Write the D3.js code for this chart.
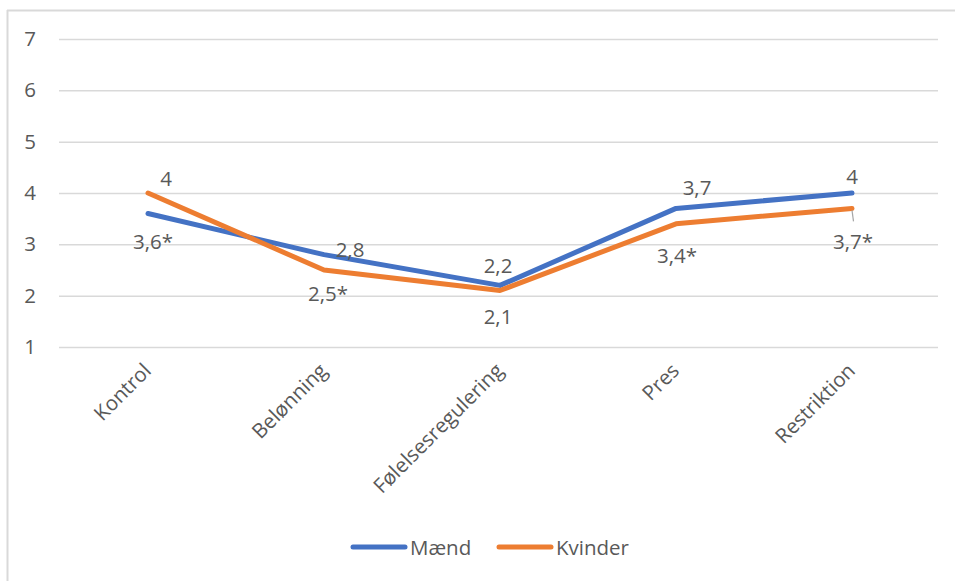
<!DOCTYPE html>
<html>
<head>
<meta charset="utf-8">
<script src="https://cdn.jsdelivr.net/npm/d3@7"></script>
<style>
  html, body { margin: 0; padding: 0; background: #fff; }
  svg text { font-family: "Open Sans", sans-serif; fill: #595959; }
</style>
</head>
<body>
<svg id="chart" width="955" height="581"></svg>
<script>
// Gennemsnitlige scorer pr. dimension, opdelt på køn
const categories = ["Kontrol", "Belønning", "Følelsesregulering", "Pres", "Restriktion"];
const maend = [3.6, 2.8, 2.2, 3.7, 4.0];
const kvinder = [4.0, 2.5, 2.1, 3.4, 3.7];
const maendLabels = ["3,6*", "2,8", "2,2", "3,7", "4"];
const kvinderLabels = ["4", "2,5*", "2,1", "3,4*", "3,7*"];
const yTicks = [1, 2, 3, 4, 5, 6, 7];

// Label placement relative to each point (dx, dy)
const maendOffsets = [[5, 27], [26, -6], [-2, -20], [21, -21], [0, -17]];
const kvinderOffsets = [[18, -15], [4, 23], [-2, 25], [1, 31], [1, 33]];

const FS = 20.5;
const svg = d3.select("#chart");
const W = 955, H = 581;

// Chart frame (top and left edge)
svg.append("line").attr("x1", 7).attr("x2", W).attr("y1", 10.5).attr("y2", 10.5)
  .attr("stroke", "#d9d9d9").attr("stroke-width", 2);
svg.append("line").attr("x1", 7.5).attr("x2", 7.5).attr("y1", 10).attr("y2", H)
  .attr("stroke", "#d9d9d9").attr("stroke-width", 2);

const x = d3.scalePoint().domain(categories).range([148, 852]);
const y = d3.scaleLinear().domain([1, 7]).range([347, 39]);

// Gridlines and y tick labels
const yAxis = d3.axisLeft(y).tickValues(yTicks).tickSize(-(938 - 59)).tickPadding(20)
  .tickFormat(d3.format("d"));
const gy = svg.append("g").attr("transform", "translate(59,0)").call(yAxis);
gy.select(".domain").remove();
gy.selectAll(".tick line").attr("stroke", "#d9d9d9").attr("stroke-width", 1.5);
gy.selectAll(".tick text").attr("font-size", FS).attr("fill", "#595959")
  .attr("text-anchor", "middle").attr("x", -29);

// Category labels, rotated
const xAxis = d3.axisBottom(x).tickSize(0).tickPadding(0);
const gx = svg.append("g").attr("transform", "translate(0,347)").call(xAxis);
gx.select(".domain").remove();
gx.selectAll(".tick text")
  .attr("font-size", FS).attr("fill", "#595959")
  .attr("text-anchor", "end")
  .attr("dy", 0).attr("y", 0)
  .attr("transform", "translate(4,25) rotate(-45)");

const line = d3.line().x((d, i) => x(categories[i])).y(d => y(d));

const series = [
  { name: "Mænd", values: maend, labels: maendLabels, offsets: maendOffsets, color: "#4472C4" },
  { name: "Kvinder", values: kvinder, labels: kvinderLabels, offsets: kvinderOffsets, color: "#ED7D31" }
];

series.forEach(s => {
  svg.append("path").datum(s.values)
    .attr("d", line)
    .attr("fill", "none")
    .attr("stroke", s.color)
    .attr("stroke-width", 5)
    .attr("stroke-linejoin", "round")
    .attr("stroke-linecap", "round");
});

// Leader line for the Restriktion label of Kvinder
svg.append("line")
  .attr("x1", x("Restriktion")).attr("y1", y(kvinder[4]) + 2)
  .attr("x2", x("Restriktion") + 1.5).attr("y2", y(kvinder[4]) + 13)
  .attr("stroke", "#a6a6a6").attr("stroke-width", 1.2);

series.forEach(s => {
  svg.append("g").selectAll("text").data(s.values).join("text")
    .attr("x", (d, i) => x(categories[i]) + s.offsets[i][0])
    .attr("y", (d, i) => y(d) + s.offsets[i][1])
    .attr("text-anchor", "middle")
    .attr("dominant-baseline", "central")
    .attr("font-size", FS)
    .attr("fill", "#404040")
    .text((d, i) => s.labels[i]);
});

// Legend
const legend = svg.append("g").attr("transform", "translate(0,547)");
const legendItems = [
  { name: "Mænd", color: "#4472C4", x: 351 },
  { name: "Kvinder", color: "#ED7D31", x: 497 }
];
legendItems.forEach(it => {
  legend.append("line").attr("x1", it.x + 2).attr("x2", it.x + 54)
    .attr("y1", 0).attr("y2", 0)
    .attr("stroke", it.color).attr("stroke-width", 5).attr("stroke-linecap", "round");
  legend.append("text").attr("x", it.x + 59).attr("y", 0)
    .attr("dominant-baseline", "central")
    .attr("font-size", FS).attr("fill", "#595959")
    .text(it.name);
});
</script>
</body>
</html>
